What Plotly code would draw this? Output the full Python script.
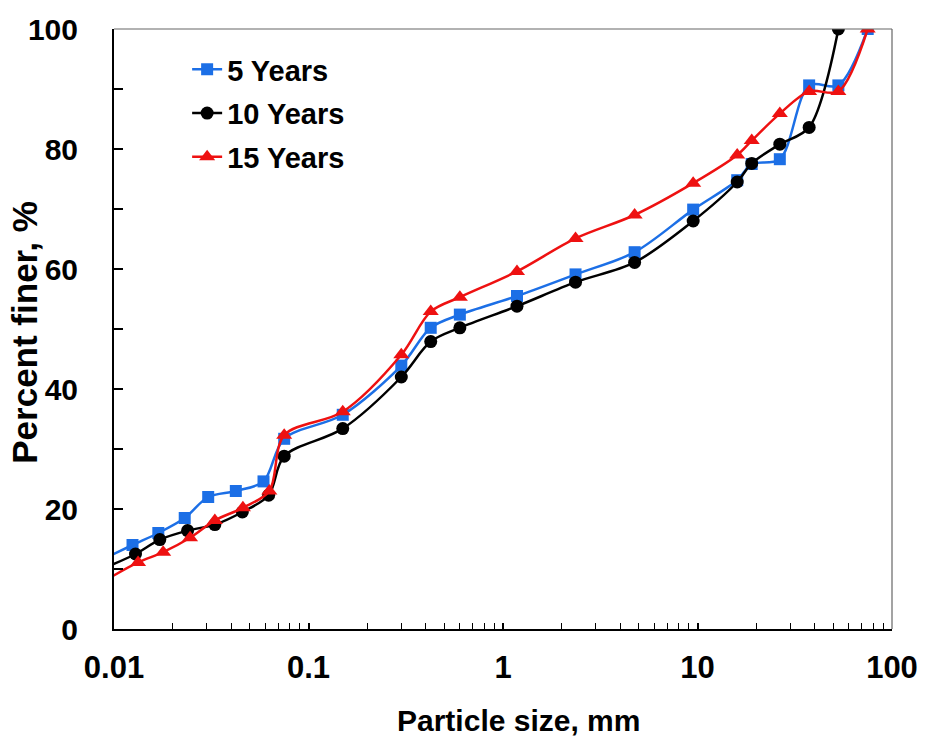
import plotly.graph_objects as go

# ---- data ----
x_5yr = [0.009, 0.01245, 0.0169, 0.0231, 0.0305, 0.0423, 0.0587,
         0.075, 0.15, 0.3, 0.425, 0.6, 1.18, 2.36, 4.75, 9.5, 16, 19, 26.5, 37.5, 53, 75]
y_5yr = [11.8, 14.0, 16.0, 18.5, 22.0, 23.0, 24.6,
         31.7, 35.7, 43.9, 50.2, 52.4, 55.5, 59.1, 62.8, 69.9, 74.8, 77.5, 78.3, 90.6, 90.6, 100]

x_10yr = [0.009, 0.0129, 0.0172, 0.0239, 0.033, 0.0457, 0.0624,
          0.075, 0.15, 0.3, 0.425, 0.6, 1.18, 2.36, 4.75, 9.5, 16, 19, 26.5, 37.5, 53]
y_10yr = [10.2, 12.5, 14.9, 16.4, 17.4, 19.5, 22.3,
          28.8, 33.4, 42.0, 47.9, 50.2, 53.8, 57.8, 61.1, 68.0, 74.5, 77.6, 80.8, 83.6, 100]

x_15yr = [0.009, 0.0133, 0.0179, 0.0246, 0.033, 0.046, 0.0629,
          0.075, 0.15, 0.3, 0.425, 0.6, 1.18, 2.36, 4.75, 9.5, 16, 19, 26.5, 37.5, 53, 75]
y_15yr = [8.1, 11.1, 12.8, 15.2, 18.1, 20.2, 23.0,
          32.3, 36.2, 45.7, 52.9, 55.3, 59.6, 65.1, 69.0, 74.3, 79.0, 81.4, 85.9, 89.6, 89.6, 100]

series_names = ["5 Years", "10 Years", "15 Years"]
x_ticks = [0.01, 0.1, 1, 10, 100]
x_tick_text = ["0.01", "0.1", "1", "10", "100"]
y_ticks = [0, 20, 40, 60, 80, 100]

BLUE = "#1C6FE6"
BLACK = "#000000"
RED = "#EE1111"
FONT = "Liberation Sans, Arial, sans-serif"

fig = go.Figure()
styles = [
    (x_5yr, y_5yr, BLUE, "square", 12),
    (x_10yr, y_10yr, BLACK, "circle", 13),
    (x_15yr, y_15yr, RED, "triangle-up", 14),
]
for name, (xs, ys, col, sym, sz) in zip(series_names, styles):
    fig.add_trace(go.Scatter(
        x=xs, y=ys, name=name, mode="lines+markers",
        line=dict(color=col, width=2.5, shape="spline", smoothing=0.9),
        marker=dict(color=col, symbol=sym, size=sz),
        legendgroup=name,
    ))

fig.update_layout(
    width=930, height=745,
    margin=dict(l=114, r=31, t=24, b=116),
    paper_bgcolor="white", plot_bgcolor="white",
    font=dict(family=FONT, color="black"),
    showlegend=True,
    legend=dict(
        x=0.094, y=0.975, xanchor="left", yanchor="top",
        font=dict(family=FONT, size=29, color="black", weight="bold"),
        bgcolor="rgba(0,0,0,0)", tracegroupgap=3,
        itemsizing="trace",
    ),
)

fig.update_xaxes(
    type="log", range=[-2, 2],
    tickvals=x_ticks, ticktext=x_tick_text,
    ticks="inside", ticklen=6, tickwidth=1.5, tickcolor="black",
    minor=dict(ticks="inside", ticklen=6, tickwidth=1.2, tickcolor="black", dtick="D1", showgrid=False),
    showline=True, linecolor="black", linewidth=2,
    showgrid=False, zeroline=False,
    tickfont=dict(family=FONT, size=31, color="black", weight="bold"),
    ticklabelstandoff=10,
)
fig.update_yaxes(
    range=[0, 100], tickvals=y_ticks,
    ticks="inside", ticklen=9, tickwidth=1.5, tickcolor="black",
    minor=dict(ticks="inside", ticklen=9, tickwidth=1.5, tickcolor="black", dtick=10, showgrid=False),
    showline=True, linecolor="black", linewidth=2,
    showgrid=False, zeroline=False,
    tickfont=dict(family=FONT, size=30, color="black", weight="bold"),
    ticklabelstandoff=28,
)

# thin gray frame on top and right
fig.add_shape(type="line", xref="paper", yref="paper", x0=0, x1=1, y0=1, y1=1,
              line=dict(color="#666666", width=1.2))
fig.add_shape(type="line", xref="paper", yref="paper", x0=1, x1=1, y0=0, y1=1,
              line=dict(color="#666666", width=1.2))

# axis titles
fig.add_annotation(text="Particle size, mm", xref="paper", yref="paper",
                   x=0.52, y=-0.153, xanchor="center", yanchor="middle", showarrow=False,
                   font=dict(family=FONT, size=30, color="black", weight="bold"))
fig.add_annotation(text="Percent finer, %", xref="paper", yref="paper",
                   x=-0.116, y=0.495, xanchor="center", yanchor="middle", showarrow=False,
                   textangle=-90,
                   font=dict(family=FONT, size=35, color="black", weight="bold"))

fig.write_html("out.html")
